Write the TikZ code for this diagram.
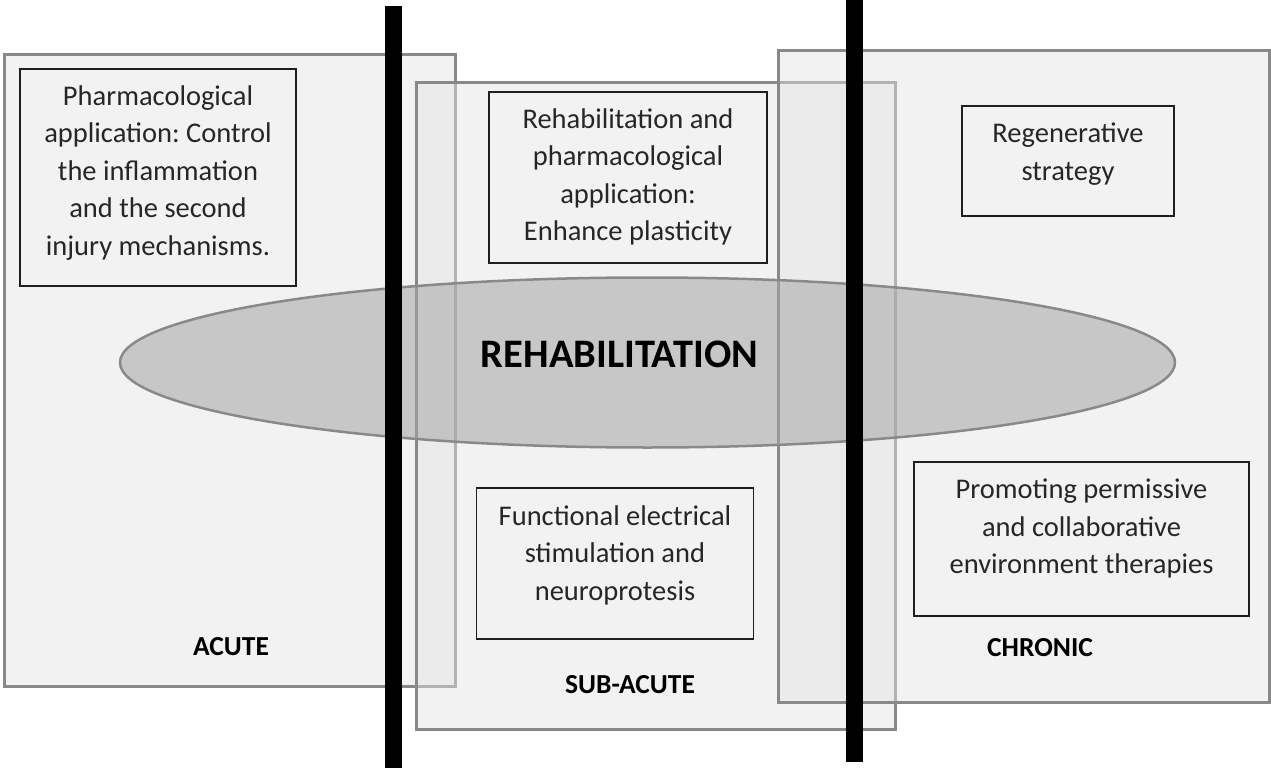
\documentclass[tikz,border=0pt]{standalone}
\usepackage{fontspec}
\setmainfont{Carlito}
\frenchspacing
\usetikzlibrary{shapes.geometric}
\definecolor{edgegray}{RGB}{137,137,137}
\definecolor{phasefill}{RGB}{227,227,227}
\definecolor{ellfill}{RGB}{167,167,167}
\definecolor{txt}{RGB}{38,38,38}
\tikzset{
  phase/.style={draw=edgegray, line width=3pt, fill=phasefill, fill opacity=0.46,
    rectangle, inner sep=0pt, outer sep=0pt},
  frame/.style={draw=black!88, line width=1.8pt, rectangle, inner sep=0pt, outer sep=0pt},
  bodytext/.style={align=center, text=txt, inner sep=0pt,
    font=\fontsize{28.5}{37.5}\selectfont\frenchspacing},
  phaselabel/.style={anchor=base, inner sep=0pt, text=black,
    font=\fontsize{27.5}{33}\selectfont\bfseries},
  bar/.style={fill=black, draw=none, rectangle, inner sep=0pt, outer sep=0pt},
  rehab/.style={ellipse, draw=edgegray, line width=2.5pt, fill=ellfill, fill opacity=0.56,
    inner sep=0pt, minimum width=1055pt, minimum height=170pt}
}
\begin{document}
\begin{tikzpicture}[x=1pt, y=-1pt]
\useasboundingbox (0,0) rectangle (1271,770);
% phase boxes
\node[phase, minimum width=451pt, minimum height=631pt] (acute) at (229.5,370.5) {};
\node[phase, minimum width=479.5pt, minimum height=646pt] (subacute) at (655.75,406) {};
\node[phase, minimum width=491.5pt, minimum height=651pt] (chronic) at (1023.75,376.5) {};
% ellipse
\node[rehab] (ell) at (647.5,362.5) {};
\node[anchor=base, inner sep=0pt, font=\fontsize{40.5}{48}\selectfont\bfseries] (rehabtext) at (619.5,367) {REHABILITATION};
% bars
\node[bar, minimum width=16.5pt, minimum height=762pt] (bar1) at (393.25,387) {};
\node[bar, minimum width=17pt, minimum height=767pt] (bar2) at (854.5,378.5) {};
% text frames
\node[frame, minimum width=276pt, minimum height=217pt] (fA) at (158,177.5) {};
\node[frame, minimum width=278pt, minimum height=171pt] (fB) at (628,177.5) {};
\node[frame, minimum width=212pt, minimum height=110pt] (fC) at (1068,161) {};
\node[frame, minimum width=277pt, minimum height=151pt] (fD) at (615,563.5) {};
\node[frame, minimum width=335pt, minimum height=154pt] (fE) at (1081.5,539) {};
% texts
\node[bodytext] (tA) at (158,173) {Pharmacological\\application: Control\\the inflammation\\and the second\\injury mechanisms.};
\node[bodytext] (tB) at (628,177) {Rehabilitation and\\pharmacological\\application:\\Enhance plasticity};
\node[bodytext] (tC) at (1068,154) {Regenerative\\strategy};
\node[bodytext] (tD) at (615,555) {Functional electrical\\stimulation and\\neuroprotesis};
\node[bodytext] (tE) at (1081.5,528.5) {Promoting permissive\\and collaborative\\environment therapies};
% labels
\node[phaselabel] (lA) at (231,655) {ACUTE};
\node[phaselabel] (lS) at (630,693) {SUB-ACUTE};
\node[phaselabel] (lC) at (1040,656) {CHRONIC};
\end{tikzpicture}
\end{document}
